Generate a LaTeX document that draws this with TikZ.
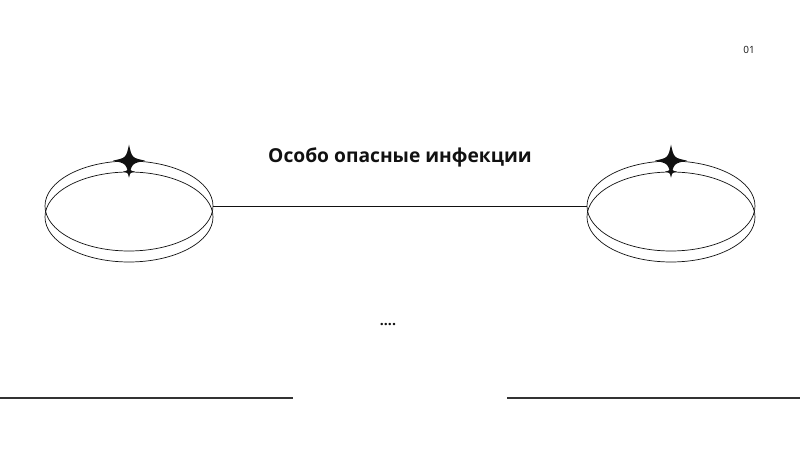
\documentclass[tikz,border=0pt]{standalone}
\usepackage{fontspec}
\setmainfont{Open Sans}
\usepackage{xcolor}
\usepackage{tikz}
\usetikzlibrary{shapes.geometric}
\definecolor{ink}{HTML}{111111}
\definecolor{rule}{HTML}{333333}
\tikzset{
  ring/.style={ellipse, draw=ink, line width=0.6pt, inner sep=0pt,
    minimum width=5.04cm, minimum height=2.7cm},
  link/.style={draw=ink, line width=0.6pt},
  baseline/.style={draw=rule, line width=0.9pt},
  title/.style={font=\bfseries\fontsize{16.4}{19}\selectfont, text=ink},
  labm/.style={font=\fontsize{8.5}{10}\selectfont, text=ink},
  dotsm/.style={font=\bfseries\fontsize{12}{14}\selectfont, text=ink}
}
\newcommand{\SparkAt}[2]{%
  \fill[ink, shift={(#1)}] (0,#2) .. controls (0.18*#2,0.18*#2) .. (#2,0)
    .. controls (0.18*#2,-0.18*#2) .. (0,-#2)
    .. controls (-0.18*#2,-0.18*#2) .. (-#2,0)
    .. controls (-0.18*#2,0.18*#2) .. cycle;
}
\begin{document}
\begin{tikzpicture}[x=0.03cm, y=0.03cm]
  \useasboundingbox (0,0) rectangle (800,450);

  \node[ring] (ringLb) at (129,233) {};
  \node[ring] (ringL) at (129,244) {};
  \node[ring] (ringRb) at (671,233) {};
  \node[ring] (ringR) at (671,244) {};

  \draw[link] (ringL.east) -- (ringR.west);

  \SparkAt{ringL.north}{16}
  \SparkAt{ringLb.north}{6}
  \SparkAt{ringR.north}{16}
  \SparkAt{ringRb.north}{6}

  \node[title] (head) at (400,293) {Особо опасные инфекции};
  \node[labm] (num) at (749,400) {01};
  \node[dotsm] (dots) at (388,125) {....};

  \coordinate (bl1) at (0,52);
  \coordinate (bl2) at (293,52);
  \coordinate (br1) at (507,52);
  \coordinate (br2) at (800,52);
  \draw[baseline] (bl1) -- (bl2);
  \draw[baseline] (br1) -- (br2);
\end{tikzpicture}
\end{document}
